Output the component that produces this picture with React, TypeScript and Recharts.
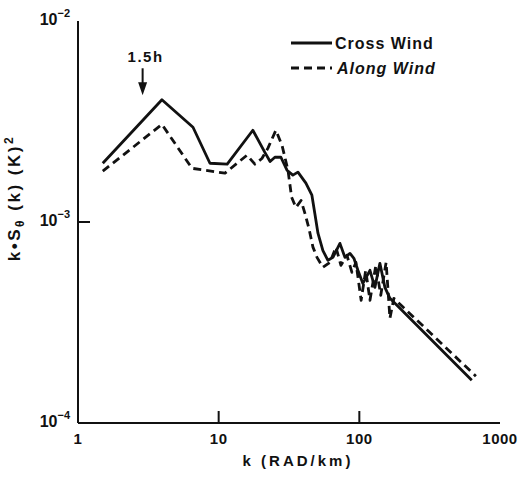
import { LineChart, Line, XAxis, YAxis, Legend, ReferenceDot, Label } from "recharts"

// wavenumber k (RAD/km) and k·Sθ(k) for each wind direction
const crossK = [1.5, 3.95, 6.57, 8.67, 11.5, 17.5, 21.3, 23.2, 25.1, 27.7, 30.6, 33.7, 36.6, 41.7, 46.0, 48.3, 50.8, 55.1, 59.8, 64.9, 72.8, 79.0, 85.8, 91.5, 97.7, 106, 119, 129, 140, 152, 165, 630]
const crossS = [1.96e-3, 4.06e-3, 2.96e-3, 1.96e-3, 1.94e-3, 2.86e-3, 2.22e-3, 2.0e-3, 2.1e-3, 2.1e-3, 1.81e-3, 1.71e-3, 1.77e-3, 1.56e-3, 1.36e-3, 1.1e-3, 8.8e-4, 7.2e-4, 6.45e-4, 6.67e-4, 7.83e-4, 6.67e-4, 6.98e-4, 6.6e-4, 5.75e-4, 4.95e-4, 5.75e-4, 4.73e-4, 6.23e-4, 4.73e-4, 4.17e-4, 1.63e-4]

const alongK = [1.5, 3.95, 6.46, 11.1, 15.9, 18.1, 20.3, 22.4, 25.5, 28.2, 31.1, 33.0, 35.4, 38.5, 41.1, 43.8, 46.8, 50.0, 55.1, 61.8, 68.2, 74.0, 81.6, 88.6, 94.6, 103, 111, 119, 131, 142, 155, 165, 176, 674]
const alongS = [1.79e-3, 3.06e-3, 1.85e-3, 1.75e-3, 2.15e-3, 1.94e-3, 2.07e-3, 2.33e-3, 2.86e-3, 2.41e-3, 1.81e-3, 1.33e-3, 1.18e-3, 1.28e-3, 1.1e-3, 9.3e-4, 7.5e-4, 6.67e-4, 5.95e-4, 6.3e-4, 7.48e-4, 6.09e-4, 6.83e-4, 5.62e-4, 6.3e-4, 4.08e-4, 5.75e-4, 4.08e-4, 6.09e-4, 4.32e-4, 6.3e-4, 3.32e-4, 4.17e-4, 1.71e-4]

const seriesNames = ["Cross Wind", "Along Wind"]

const xTicks = [1, 10, 100, 1000]
const xTickLabels = ["1", "10", "100", "1000"]
const yTicks = [1e-4, 1e-3, 1e-2]
const yExponents = ["−4", "−3", "−2"]

// marker for the 1.5h scale
const markK = 2.88
const markS = 4.27e-3

const crossData = crossK.map((k, i) => ({ k, s: crossS[i] }))
const alongData = alongK.map((k, i) => ({ k, s: alongS[i] }))

const FONT = "'Liberation Sans', Arial, sans-serif"
const INK = "#111"
const DASH = "8 5"
const LINE_W = 2.8

const isInner = (v: number, lo: number, hi: number) => v > lo * 1.01 && v < hi * 0.99

const BottomTick = (props: any) => {
  const { x, y, payload } = props
  const i = xTicks.indexOf(payload.value)
  return (
    <g>
      {isInner(payload.value, 1, 1000) && <line x1={x} y1={y} x2={x} y2={y - 12} stroke={INK} strokeWidth={2} />}
      <text x={x} y={y + 21} textAnchor="middle" fontFamily={FONT} fontWeight={700} fontSize={15} fill={INK} letterSpacing={0.5}>
        {xTickLabels[i]}
      </text>
    </g>
  )
}

const TopTick = (props: any) => {
  const { x, y, payload } = props
  if (!isInner(payload.value, 1, 1000)) return <g />
  return <line x1={x} y1={y} x2={x} y2={y + 12} stroke={INK} strokeWidth={2} />
}

const LeftTick = (props: any) => {
  const { x, y, payload } = props
  const i = yTicks.findIndex((t) => Math.abs(t - payload.value) < t * 1e-6)
  return (
    <g>
      {isInner(payload.value, 1e-4, 1e-2) && <line x1={x} y1={y} x2={x + 12} y2={y} stroke={INK} strokeWidth={2} />}
      <text x={x - 8} y={y + 4} textAnchor="end" fontFamily={FONT} fontWeight={700} fontSize={16} fill={INK}>
        10
        <tspan dy={-8} fontSize={11}>{yExponents[i]}</tspan>
      </text>
    </g>
  )
}

const RightTick = (props: any) => {
  const { x, y, payload } = props
  if (!isInner(payload.value, 1e-4, 1e-2)) return <g />
  return <line x1={x} y1={y} x2={x - 12} y2={y} stroke={INK} strokeWidth={2} />
}

const XTitle = (props: any) => {
  const { viewBox } = props
  return (
    <text x={viewBox.x + viewBox.width / 2 + 9} y={viewBox.y + 43} textAnchor="middle" fontFamily={FONT} fontWeight={700} fontSize={15} fill={INK} letterSpacing={3}>
      k (RAD/km)
    </text>
  )
}

const YTitle = () => (
  <text transform="translate(20,198) rotate(-90)" textAnchor="middle" fontFamily={FONT} fontWeight={700} fontSize={17} fill={INK} letterSpacing={2.5}>
    k•S
    <tspan dy={4} fontSize={12}>θ</tspan>
    <tspan dy={-4}> (k)  (K)</tspan>
    <tspan dy={-7} fontSize={12}>2</tspan>
  </text>
)

const Arrow = (props: any) => {
  const { cx, cy } = props
  return (
    <g>
      <line x1={cx} y1={cy - 27} x2={cx} y2={cy - 10} stroke={INK} strokeWidth={2} />
      <path d={`M${cx - 4.5},${cy - 13} L${cx + 4.5},${cy - 13} L${cx},${cy} Z`} fill={INK} />
      <text x={cx + 3} y={cy - 33} textAnchor="middle" fontFamily={FONT} fontWeight={700} fontSize={15} fill={INK} letterSpacing={1.5}>
        1.5h
      </text>
    </g>
  )
}

const LegendBox = (props: any) => {
  const { payload = [] } = props
  const entries = seriesNames
    .map((name) => payload.find((e: any) => e.value === name))
    .filter(Boolean)
  return (
    <svg width={160} height={52}>
      {entries.map((entry: any, i: number) => {
        const y = 13 + i * 25
        const dashed = !!entry.payload?.strokeDasharray
        return (
          <g key={entry.value}>
            <line x1={3} y1={y} x2={44} y2={y} stroke={INK} strokeWidth={LINE_W} strokeDasharray={dashed ? DASH : undefined} />
            <text x={dashed ? 49 : 47} y={y + 6} fontFamily={FONT} fontWeight={700} fontStyle={dashed ? "italic" : "normal"} fontSize={16} fill={INK} letterSpacing={1}>
              {entry.value}
            </text>
          </g>
        )
      })}
    </svg>
  )
}

export default function App() {
  return (
    <div style={{ position: "absolute", left: 0, top: 0, background: "#fff" }}>
      <LineChart width={518} height={478} margin={{ top: 21, right: 18, left: 0, bottom: 0 }}>
        <XAxis
          xAxisId={0}
          dataKey="k"
          type="number"
          scale="log"
          domain={[1, 1000]}
          allowDataOverflow
          ticks={xTicks}
          tick={BottomTick}
          tickLine={false}
          tickSize={0}
          tickMargin={0}
          height={55}
          axisLine={{ stroke: INK, strokeWidth: 2 }}
        >
          <Label content={XTitle} />
        </XAxis>
        <XAxis
          xAxisId="top"
          orientation="top"
          dataKey="k"
          type="number"
          scale="log"
          domain={[1, 1000]}
          allowDataOverflow
          ticks={xTicks}
          tick={TopTick}
          tickLine={false}
          tickSize={0}
          tickMargin={0}
          height={0}
          axisLine={{ stroke: INK, strokeWidth: 2 }}
        />
        <YAxis
          yAxisId={0}
          type="number"
          scale="log"
          domain={[1e-4, 1e-2]}
          allowDataOverflow
          ticks={yTicks}
          tick={LeftTick}
          tickLine={false}
          tickSize={0}
          tickMargin={0}
          width={78}
          axisLine={{ stroke: INK, strokeWidth: 2 }}
        >
          <Label content={YTitle} />
        </YAxis>
        <YAxis
          yAxisId="right"
          orientation="right"
          type="number"
          scale="log"
          domain={[1e-4, 1e-2]}
          allowDataOverflow
          ticks={yTicks}
          tick={RightTick}
          tickLine={false}
          tickSize={0}
          tickMargin={0}
          width={0}
          axisLine={{ stroke: INK, strokeWidth: 2 }}
        />
        <Legend
          layout="vertical"
          align="center"
          verticalAlign="middle"
          wrapperStyle={{ top: 30, left: 288, width: 160, height: 52 }}
          content={LegendBox}
        />
        <Line
          name={seriesNames[0]}
          data={crossData}
          dataKey="s"
          type="linear"
          stroke={INK}
          strokeWidth={LINE_W}
          strokeLinejoin="round"
          dot={false}
          isAnimationActive={false}
        />
        <Line
          name={seriesNames[1]}
          data={alongData}
          dataKey="s"
          type="linear"
          stroke={INK}
          strokeWidth={LINE_W}
          strokeDasharray={DASH}
          strokeLinejoin="round"
          dot={false}
          isAnimationActive={false}
        />
        <ReferenceDot x={markK} y={markS} r={0} shape={Arrow} ifOverflow="visible" />
      </LineChart>
    </div>
  )
}
